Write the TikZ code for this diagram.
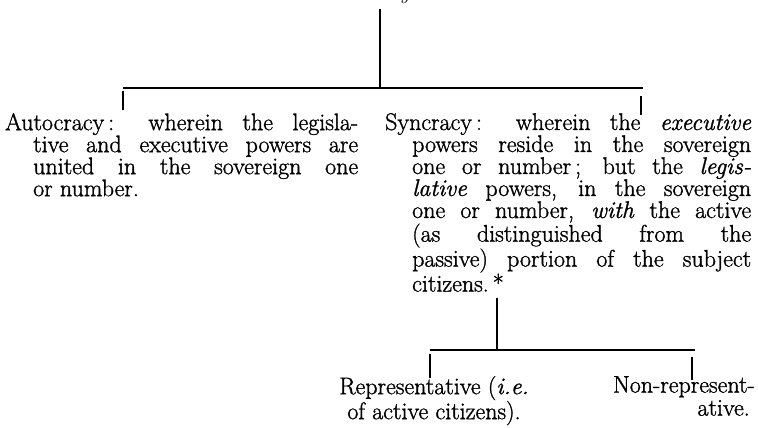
\documentclass[tikz,border=0pt]{standalone}
\newcommand{\heavyink}{\special{pdf:literal direct 2 Tr 0.3 w}}
\begin{document}
\begin{tikzpicture}[x=1pt,y=-1pt,
  conn/.style={line width=1.3pt, line cap=butt},
  tick/.style={line width=1.1pt, line cap=butt},
  para/.style={anchor=north west, inner sep=0pt, align=justify,
    font=\fontsize{24}{22}\selectfont\heavyink},
  leaf/.style={inner sep=0pt, font=\fontsize{24}{23}\selectfont\heavyink}]
\useasboundingbox (0,0) rectangle (758,428);
% clipped heading at the top edge
\node[anchor=base east, inner sep=0pt, font=\fontsize{21}{22}\selectfont\itshape] (head) at (466,0) {Political Systems.};
% upper tree
\coordinate (s1) at (380,9);
\coordinate (j1) at (380,88);
\coordinate (bl) at (123,88);
\coordinate (br) at (643,88);
\coordinate (tl1) at (123,91);
\coordinate (tl2) at (123,110);
\coordinate (tr1) at (641,96);
\coordinate (tr2) at (641,115);
\draw[conn] (s1) -- (j1);
\draw[conn] (bl) -- (br);
\draw[tick] (tl1) -- (tl2);
\draw[tick] (tr1) -- (tr2);
\node[para, text width=353pt] (auto) at (5,113) {\noindent\hangindent=28pt\hangafter=1
Autocracy\,: wherein the legisla-\linebreak tive and executive powers are\linebreak united in the sovereign one\linebreak or number.\par};
\node[para, text width=366pt] (sync) at (385,113) {\noindent\hangindent=27pt\hangafter=1
Syncracy\,: wherein the \textit{executive}\linebreak powers reside in the sovereign\linebreak one or number\,; but the \textit{legis-}\linebreak\textit{lative} powers, in the sovereign\linebreak one or number, \textit{with} the active\linebreak (as distinguished from the\linebreak passive) portion of the subject\linebreak citizens.\,*\par};
% lower tree
\coordinate (s2) at (497,298);
\coordinate (j2) at (497,350);
\coordinate (cl) at (430,350);
\coordinate (cr) at (695,350);
\coordinate (ul1) at (430,354);
\coordinate (ul2) at (430,378);
\coordinate (ur1) at (692,357);
\coordinate (ur2) at (692,380);
\draw[conn] (s2) -- (j2);
\draw[conn] (cl) -- (cr);
\draw[tick] (ul1) -- (ul2);
\draw[tick] (ur1) -- (ur2);
\node[leaf, anchor=north, align=center] (rep) at (434,376) {Representative (\textit{i.e.}\\of active citizens).};
\node[leaf, anchor=north east, align=right] (nonrep) at (755,376) {Non-represent-\\ative.\hspace*{5pt}};
\end{tikzpicture}
\end{document}
